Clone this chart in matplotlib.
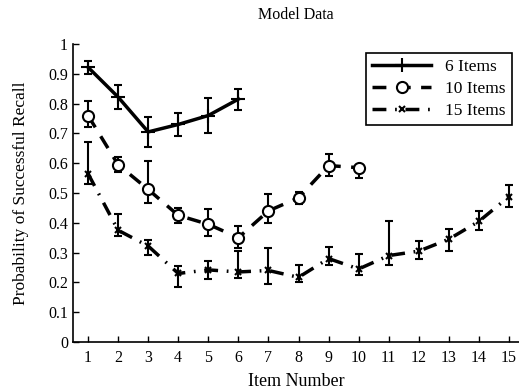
import numpy as np
import matplotlib.pyplot as plt

plt.rcParams["font.family"] = ["Liberation Serif", "DejaVu Serif"]

# values
items6 = [1, 2, 3, 4, 5, 6]
recall6 = [0.922, 0.822, 0.705, 0.73, 0.76, 0.815]
err6 = [0.022, 0.04, 0.05, 0.04, 0.06, 0.035]

items10 = [1, 2, 3, 4, 5, 6, 7, 8, 9, 10]
recall10 = [0.76, 0.595, 0.512, 0.425, 0.395, 0.35, 0.44, 0.484, 0.592, 0.585]
err10_lo = [0.04, 0.025, 0.045, 0.025, 0.04, 0.035, 0.04, 0.02, 0.035, 0.035]
err10_hi = [0.05, 0.025, 0.095, 0.025, 0.05, 0.04, 0.055, 0.02, 0.04, 0.01]

items15 = list(range(1, 16))
recall15 = [0.565, 0.375, 0.322, 0.23, 0.242, 0.235, 0.24, 0.217, 0.28, 0.245,
            0.29, 0.305, 0.345, 0.405, 0.488]
err15_lo = [0.035, 0.02, 0.03, 0.045, 0.03, 0.02, 0.045, 0.015, 0.02, 0.02,
            0.03, 0.025, 0.04, 0.03, 0.035]
err15_hi = [0.105, 0.055, 0.02, 0.025, 0.03, 0.07, 0.075, 0.04, 0.04, 0.05,
            0.115, 0.035, 0.035, 0.035, 0.04]

yticks = np.arange(0, 1.01, 0.1)
ytick_labels = ["0", "0.1", "0.2", "0.3", "0.4", "0.5", "0.6", "0.7", "0.8", "0.9", "1"]

fig = plt.figure(figsize=(5.19, 3.92), dpi=100)
ax = fig.add_axes([73 / 519, 50 / 392, 446 / 519, 298 / 392])

# error bars drawn first, then the lines on top
ax.errorbar(items6, recall6, yerr=err6, fmt="none", ecolor="black",
            elinewidth=1.5, capsize=3, capthick=1.5)
ax.errorbar(items10, recall10, yerr=[err10_lo, err10_hi], fmt="none",
            ecolor="black", elinewidth=1.5, capsize=3, capthick=1.5)
ax.errorbar(items15, recall15, yerr=[err15_lo, err15_hi], fmt="none",
            ecolor="black", elinewidth=1.5, capsize=3, capthick=1.5)

ax.plot(items6, recall6, color="black", linestyle="-", linewidth=2.5,
        marker="+", markersize=10, markeredgewidth=1.5, label="6 Items")
ax.plot(items10, recall10, color="black", linestyle=(0, (4, 3)), linewidth=2.5,
        marker="o", markersize=8, markerfacecolor="white",
        markeredgewidth=1.5, label="10 Items")
ax.plot(items15, recall15, color="black", linestyle=(0, (4, 2.5, 0.5, 2.5)),
        linewidth=2.5, marker="x", markersize=5, markeredgewidth=1.5,
        label="15 Items")

ax.set_xlim(0.5, 0.5 + 446 / 30.07)
ax.set_ylim(0, 1)
ax.set_xticks(items15)
ax.set_yticks(yticks)
ax.set_yticklabels(ytick_labels)
ax.tick_params(direction="in", length=4, labelsize=11.5, width=1)
ax.tick_params(axis="x", pad=6)

for side in ["top", "right"]:
    ax.spines[side].set_visible(False)
for side in ["left", "bottom"]:
    ax.spines[side].set_linewidth(1.2)

ax.set_title("Model Data", fontsize=11.5, pad=18)
ax.set_xlabel("Item Number", fontsize=13, labelpad=5)
ax.set_ylabel("Probability of Successful Recall", fontsize=12.5, labelpad=14)

leg = ax.legend(loc="upper right", bbox_to_anchor=(0.984, 0.97), borderaxespad=0,
                fontsize=12.5, fancybox=False, edgecolor="black", framealpha=1,
                handlelength=3.4, borderpad=0.35, labelspacing=0.32)
leg.get_frame().set_linewidth(1.2)

fig.savefig("out.png", dpi=100)
